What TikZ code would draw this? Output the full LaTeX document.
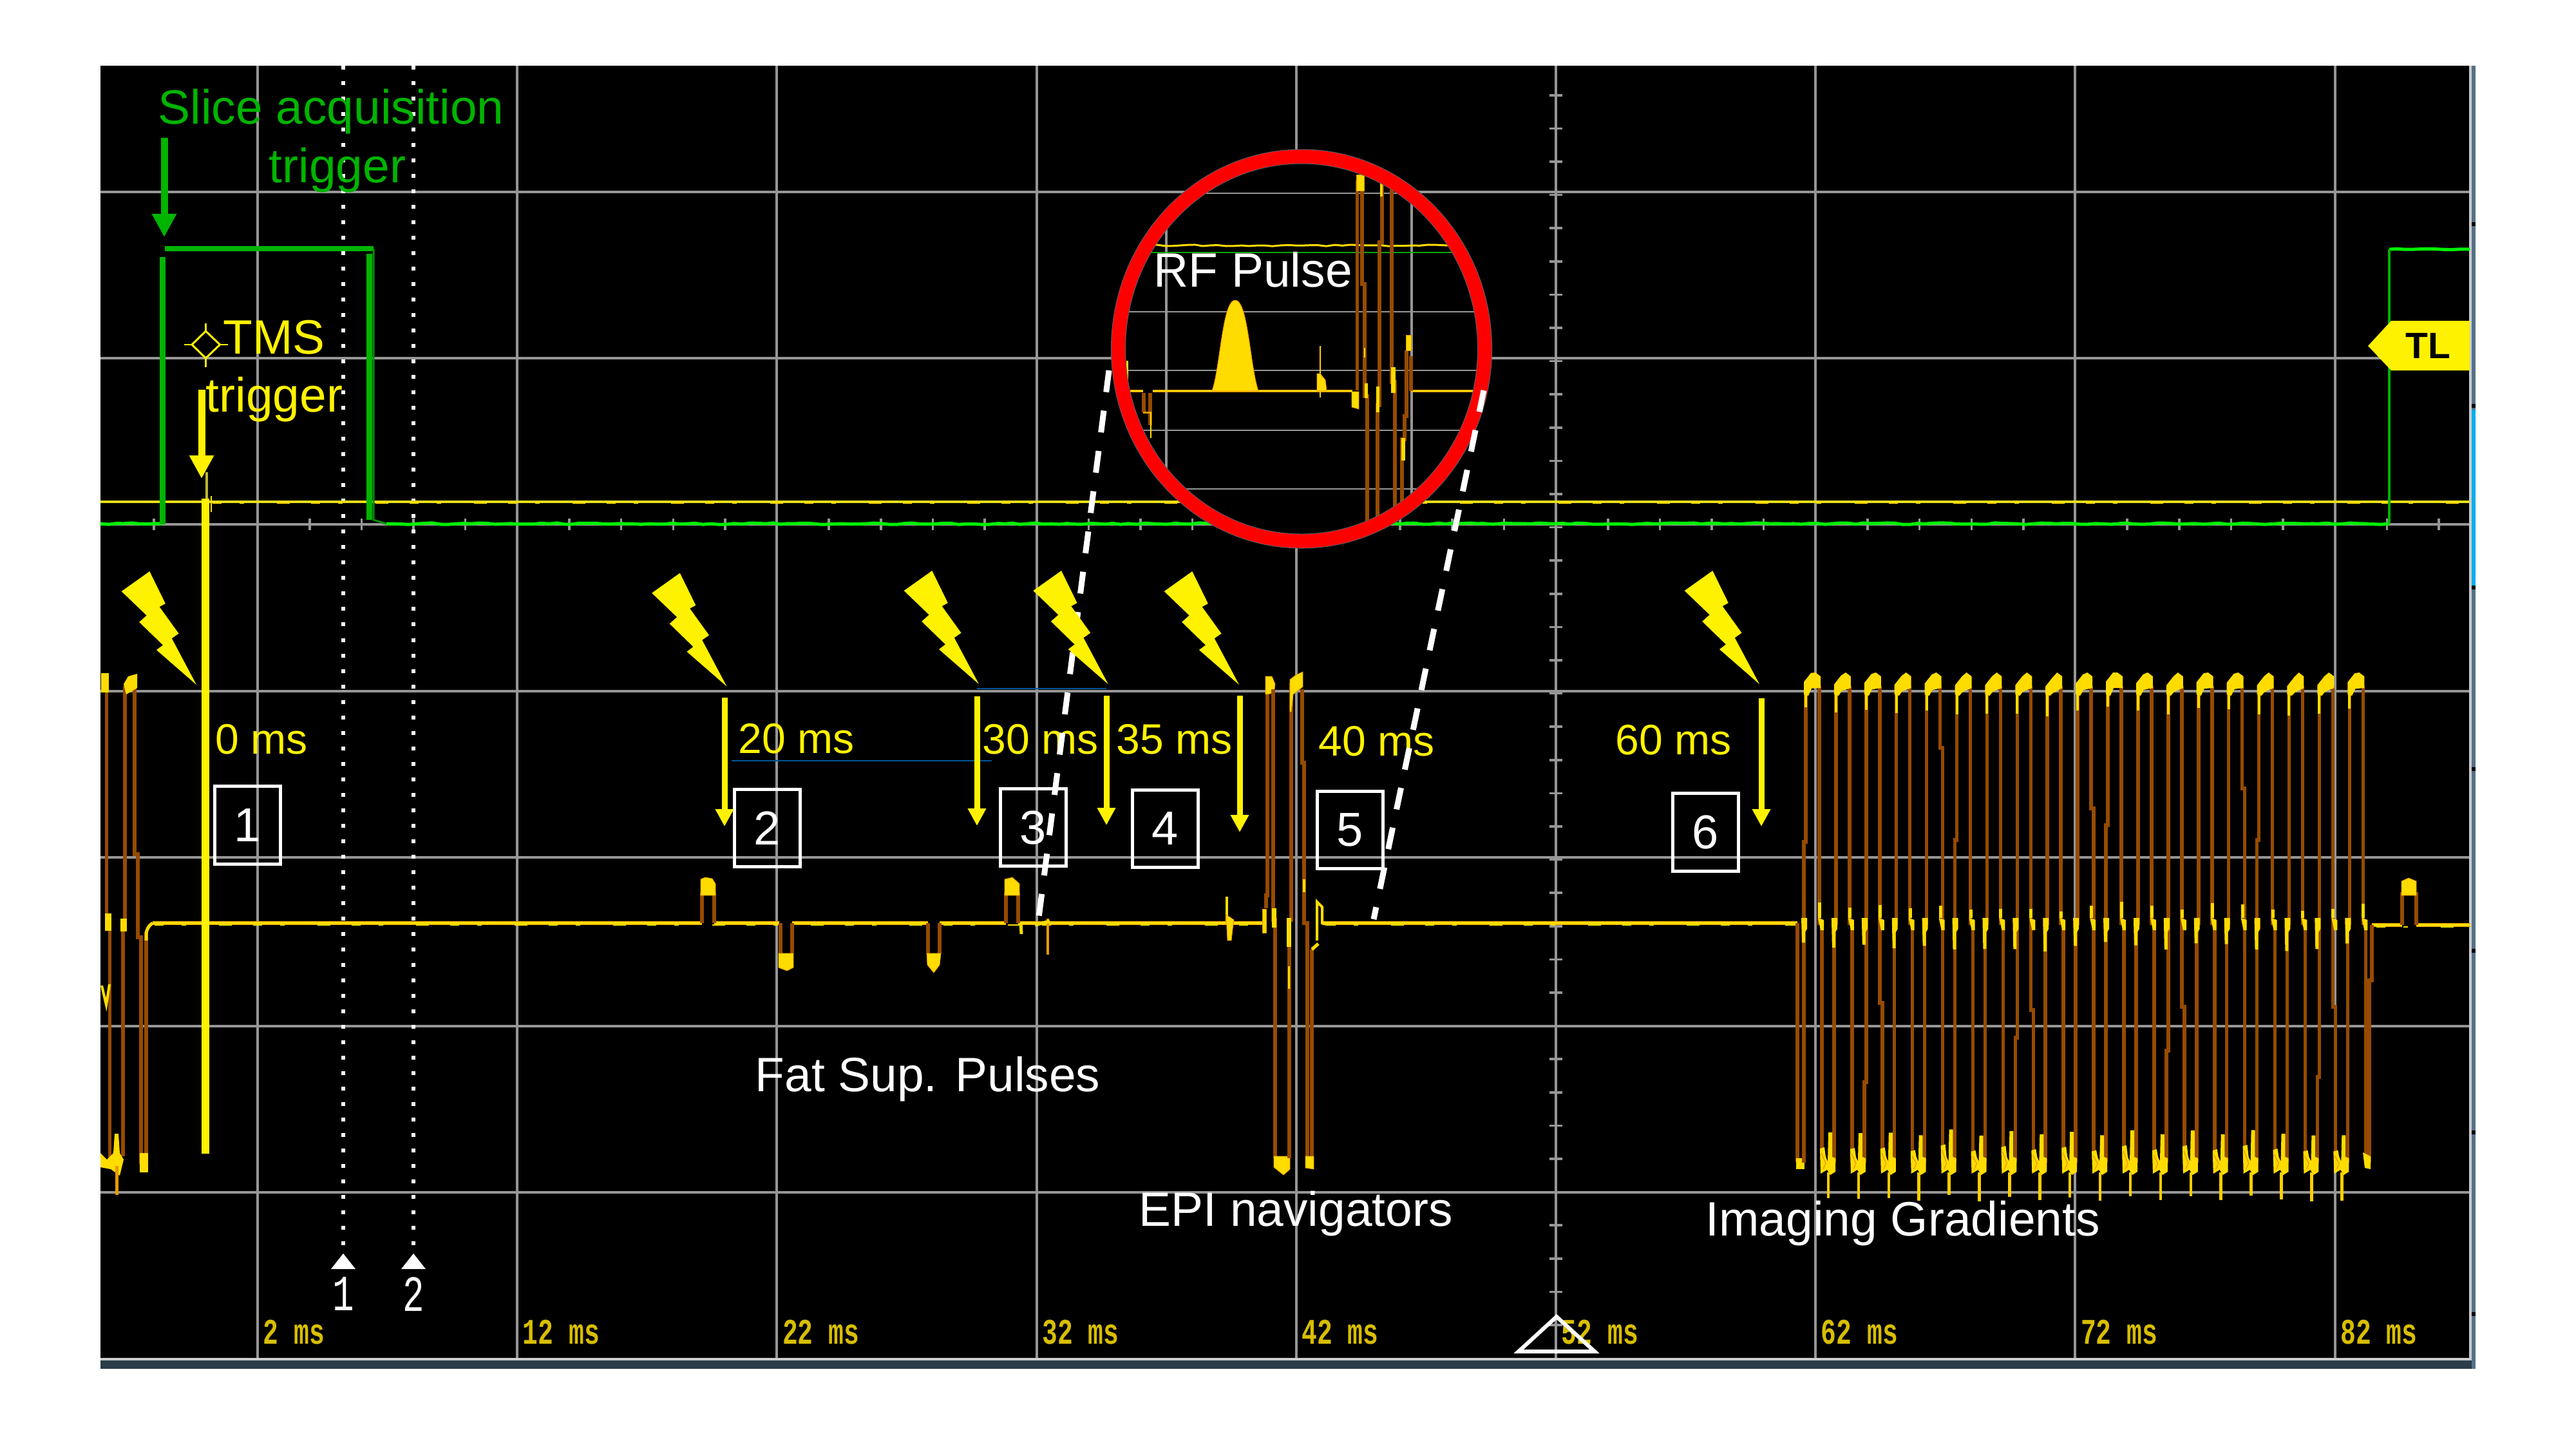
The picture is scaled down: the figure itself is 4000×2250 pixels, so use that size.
\documentclass[tikz,border=0pt]{standalone}
\usepackage{fontspec}
\setmainfont{Liberation Sans}
\newfontfamily\scopefont{Liberation Mono}
\usetikzlibrary{arrows.meta,decorations.pathmorphing}
\definecolor{gridgrey}{HTML}{969696}
\definecolor{tracebrown}{HTML}{964B00}
\definecolor{traceyel}{HTML}{FFDC00}
\definecolor{traceorange}{HTML}{E89A00}
\definecolor{slicegreen}{HTML}{00B400}
\definecolor{lowgreen}{HTML}{00F000}
\definecolor{scopegold}{HTML}{D8BE00}
\definecolor{stripslate}{HTML}{557089}
\definecolor{stripdark}{HTML}{2C3D4A}
\tikzset{
  gridline/.style={draw=gridgrey,line width=.04cm},
  minorline/.style={draw=gridgrey,line width=.02cm},
  tickline/.style={draw=gridgrey,line width=.035cm},
  dotline/.style={draw=white,line width=.06cm,dash pattern=on .06cm off .18cm},
  dashline/.style={draw=white,line width=.09cm,dash pattern=on .34cm off .29cm},
  brownline/.style={draw=tracebrown,line width=.055cm},
  baseline/.style={draw=traceyel,line width=.04cm,preaction={draw=traceorange,line width=.06cm}},
  thinbase/.style={draw=traceyel,line width=.025cm,preaction={draw=traceorange,line width=.04cm}},
  bumpline/.style={draw=traceyel,line width=.015cm,dash pattern=on .14cm off .28cm on .07cm off .51cm on .2cm off .33cm},
  noisy/.style={decorate,decoration={random steps,segment length=.12cm,amplitude=.012cm}},
  blob/.style={fill=traceyel,draw=traceorange,line width=.008cm},
  bigarrow/.style={line width=.11cm,-{Triangle[width=.36cm,length=.36cm]}},
  smallarrow/.style={draw=yellow,line width=.09cm,-{Triangle[width=.27cm,length=.27cm]}},
  bluerule/.style={draw=blue!45!cyan!60!black,line width=.02cm},
  biglabel/.style={anchor=base west,inner sep=0pt,font=\fontsize{21.3}{25}\selectfont},
  timelabel/.style={anchor=base west,inner sep=0pt,text=yellow,font=\fontsize{18.8}{22}\selectfont},
  scopelabel/.style={anchor=base west,inner sep=0pt,text=scopegold,font=\scopefont\bfseries\fontsize{15.9}{18}\selectfont},
  cursorlabel/.style={inner sep=0pt,text=white,font=\scopefont\fontsize{22.4}{25}\selectfont},
  numbox/.style={draw=white,line width=.05cm,minimum width=1.02cm,minimum height=1.2cm,inner sep=0pt,text=white,font=\fontsize{21.05}{25}\selectfont},
  lightning/.pic={\fill[yellow] (-72.7,176) -- (-48.2,126) -- (-57.4,121) -- (-27.5,79.5) -- (-38.3,72) -- (0,0) -- (-62,54) -- (-52,61.6) -- (-88.8,97.3) -- (-77.3,107.6) -- (-116.3,145) -- cycle;}
}
\newcommand{\narrowmono}[1]{\scalebox{.71}[1]{#1}}
\begin{document}
\begin{tikzpicture}[x=0.01cm,y=0.01cm,yscale=-1,xscale=1]
\useasboundingbox (0,0) rectangle (4000,2250);
\pgfmathsetseed{4711}
\fill[black] (156,102) rectangle (3838,2113);
\foreach \gx in {400,803,1206,1610,2013,2416,2819,3222,3626} \draw[gridline] (\gx,102) -- (\gx,2110);
\foreach \gy in {298,556,814,1073,1331,1593,1851} \draw[gridline] (156,\gy) -- (3835,\gy);
\foreach \k in {0,...,44} \draw[tickline] (3787-80.64*\k,805) -- (3787-80.64*\k,823);
\foreach \k in {0,...,37} \draw[tickline] (2406,2057-51.6*\k) -- (2426,2057-51.6*\k);
\fill[stripdark] (156,2112) rectangle (3844,2125);
\draw[draw=black!20,line width=.04cm] (156,2110) -- (3838,2110);
\fill[stripslate] (3838,102) rectangle (3844,2125);
\fill[black!20] (3834,102) rectangle (3838,2112);
\fill[cyan] (3838,636) rectangle (3844,909);
\foreach \k in {0,...,6} \fill[black] (3838,348+282*\k-3) rectangle (3844,348+282*\k+3);
% cursors
\draw[dotline] (533,102) -- (533,1946);
\draw[dotline] (642,102) -- (642,1946);
\fill[white] (533,1946) -- (552,1970) -- (514,1970) -- cycle;
\fill[white] (642,1946) -- (661,1970) -- (623,1970) -- cycle;
\node[cursorlabel] (cursorA) at (533,2009) {\narrowmono{1}};
\node[cursorlabel] (cursorB) at (642,2009) {\narrowmono{2}};
\foreach \k/\t in {0/2,1/12,2/22,3/32,4/42,5/52,6/62,7/72,8/82}
  \node[scopelabel] (time\k) at (408+403.2*\k,2086) {\narrowmono{\t{} ms}};
\draw[draw=white,line width=.06cm,line join=miter] (2417,2044) -- (2358,2098) -- (2476,2098) -- cycle;
% upper traces
\draw[draw=yellow!90!black,line width=.04cm] (156,779) -- (3835,779);
\draw[bumpline] (330,781) -- (3835,781);
\draw[draw=lowgreen,line width=.05cm,noisy] (156,813) -- (252,813);
\draw[draw=lowgreen,line width=.05cm,noisy] (600,813) -- (3710,813);
\draw[draw=slicegreen,line width=.09cm] (252,814) -- (252,399);
\draw[draw=slicegreen,line width=.08cm] (256,386) -- (580,386);
\draw[draw=slicegreen,line width=.09cm] (573,394) -- (573,807);
\draw[draw=slicegreen!80!black,line width=.03cm] (580,386) -- (580,807) -- (600,813);
\draw[draw=lowgreen,line width=.05cm,noisy] (3710,387) -- (3835,387);
\draw[draw=slicegreen,line width=.045cm] (3710,813) -- (3710,387);
% main trace
\draw[baseline] (237,1433) -- (1090,1433);
\draw[baseline] (1109,1433) -- (1210,1433);
\draw[baseline] (1230,1433) -- (1441,1433);
\draw[baseline] (1459,1433) -- (1562,1433);
\draw[baseline] (1581,1433) -- (1960,1433);
\draw[baseline] (2053,1433) -- (2791,1433);
\draw[baseline] (3683,1436) -- (3730,1436);
\draw[baseline] (3752,1436) -- (3836,1436);
\draw[bumpline] (240,1436) -- (1960,1436);
\draw[bumpline] (2060,1436) -- (2791,1436);
\draw[bumpline] (3690,1439) -- (3836,1439);
% left readout
\draw[brownline] (165.5,1070) -- (165.5,1425) -- (170.6,1425) -- (170.6,1800);
\draw[brownline] (191,1795) -- (191,1433) -- (194,1433) -- (194,1065);
\draw[brownline] (209,1065) -- (209,1326) -- (214,1326) -- (214,1455) -- (219,1455) -- (219,1807);
\draw[brownline] (227,1807) -- (227,1447);
\draw[draw=traceyel,line width=.05cm,rounded corners=.1cm] (227,1460) -- (227,1440) -- (237,1433);
\fill[traceyel] (157,1045) rectangle (169,1075);
\fill[traceyel] (192,1062) -- (199,1050) -- (213,1046) -- (213,1068) -- (196,1078) -- cycle;
\fill[traceyel] (217,1790) rectangle (230,1820);
\fill[traceyel] (163,1418) rectangle (173,1445);
\fill[traceyel] (187,1426) rectangle (197,1446);
\draw[draw=traceyel,line width=.04cm] (158,1530) -- (165,1560) -- (170,1528);
\fill[traceyel] (156,1790) -- (166,1800) -- (176,1790) -- (178,1760) -- (184,1760) -- (186,1790) -- (192,1800) -- (186,1825) -- (172,1815) -- (156,1812) -- cycle;
\draw[draw=traceorange,line width=.05cm] (181,1810) -- (181,1855);
% fat sup pulses
\draw[brownline] (1090,1433) -- (1090,1385);
\draw[brownline] (1109,1385) -- (1109,1433);
\fill[blob] (1088,1365) -- (1095,1362) -- (1106,1364) -- (1111,1372) -- (1111,1390) -- (1088,1390) -- cycle;
\draw[brownline] (1212,1433) -- (1212,1480);
\draw[brownline] (1230,1480) -- (1230,1433);
\fill[blob] (1209,1480) -- (1232,1480) -- (1232,1502) -- (1222,1507) -- (1209,1502) -- cycle;
\draw[brownline] (1441,1433) -- (1441,1480);
\draw[brownline] (1459,1480) -- (1459,1433);
\fill[blob] (1439,1480) -- (1461,1480) -- (1459,1498) -- (1450,1510) -- (1440,1498) -- cycle;
\draw[brownline] (1562,1433) -- (1562,1385);
\draw[brownline] (1581,1385) -- (1581,1433);
\fill[blob] (1560,1365) -- (1572,1362) -- (1583,1372) -- (1583,1390) -- (1560,1390) -- cycle;
\draw[draw=traceyel,line width=.05cm] (1585,1433) -- (1586,1450);
\draw[draw=traceorange,line width=.04cm] (1627,1426) -- (1627,1482);
\draw[draw=traceyel,line width=.05cm] (1607,1436) -- (1630,1430);
% spike before navigators
\draw[draw=traceyel,line width=.04cm] (1905,1392) -- (1905,1430);
\fill[blob] (1904,1420) -- (1916,1428) -- (1914,1442) -- (1912,1460) -- (1906,1460) -- cycle;
% navigators
\fill[blob] (1960,1411) rectangle (1966,1448);
\draw[brownline] (1966,1410) -- (1966,1390) -- (1968,1390) -- (1968,1060);
\fill[blob] (1965,1050) -- (1975,1050) -- (1980,1062) -- (1978,1076) -- (1965,1078) -- cycle;
\draw[brownline] (1977,1070) -- (1977,1428) -- (1980,1428) -- (1980,1798);
\fill[blob] (1978,1795) -- (2003,1795) -- (2003,1815) -- (1993,1824) -- (1978,1812) -- cycle;
\draw[brownline] (2002,1798) -- (2002,1428) -- (2005,1428) -- (2005,1060);
\fill[blob] (2003,1055) -- (2012,1048) -- (2023,1043) -- (2023,1066) -- (2008,1078) -- (2005,1105) -- (2003,1105) -- cycle;
\draw[brownline] (2022,1070) -- (2022,1184) -- (2025,1184) -- (2025,1433) -- (2030,1433) -- (2030,1795);
\draw[brownline] (2037,1798) -- (2037,1474);
\fill[blob] (2027,1795) -- (2040,1795) -- (2040,1815) -- (2027,1813) -- cycle;
\fill[traceyel] (1975,1410) rectangle (1982,1440);
\fill[traceyel] (1998,1425) rectangle (2005,1470);
\fill[traceyel] (2000,1500) rectangle (2003,1535);
\fill[traceyel] (2023,1365) rectangle (2027,1385);
\draw[draw=traceyel,line width=.05cm] (2037,1474) -- (2047,1465);
\draw[draw=traceyel,line width=.04cm] (2045,1460) -- (2045,1400) -- (2053,1408) -- (2053,1433) -- (2060,1435);
% imaging gradients
\draw[brownline] (2791,1433) -- (2791,1804);
\fill[traceyel] (2789,1798) rectangle (2802,1815);
\foreach \n/\ka/\kb in {0/1307/1433,1/1433/1433,2/1680/1557,3/1433/1433,4/1433/1161,5/1304/1433,6/1433/1433,7/1611/1568,8/1433/1433,9/1433/1255,10/1281/1433,11/1433/1433,12/1631/1563,13/1433/1433,14/1433/1224,15/1304/1433,16/1433/1433,17/1672/1563,18/1433/1433}{
  \pgfmathsetmacro{\gx}{2815+46.9*\n}
  \pgfmathsetmacro{\ja}{rnd*8-4}
  \draw[brownline] (\gx-14,1805) -- (\gx-14,\ka) -- (\gx-11,\ka) -- (\gx-11,1065);
  \draw[brownline] (\gx+10,1065) -- (\gx+10,\kb) -- (\gx+14,\kb) -- (\gx+14,1800);
  \fill[traceyel] (\gx-14,1078) -- (\gx-14,1062+\ja) -- (\gx-3,1048+\ja) -- (\gx+4,1044) -- (\gx+12,1050) -- (\gx+12,1068) -- (\gx-2,1072+\ja) -- (\gx-7,1080) -- cycle;
  \fill[traceyel] (\gx-13,1075) rectangle (\gx-9,1105+\ja*2);
  \fill[traceyel] (\gx-18,1425) -- (\gx-9,1425) -- (\gx-9,1442) -- (\gx-12,1447) -- (\gx-12,1470+\ja*2) -- (\gx-17,1470+\ja*2) -- cycle;
  \fill[traceyel] (\gx+8,1408+\ja*2) rectangle (\gx+13,1425);
  \fill[traceyel] (\gx+8,1425) -- (\gx+17,1428) -- (\gx+17,1444) -- (\gx+12,1444) -- cycle;
}
\foreach \n in {0,...,17}{
  \pgfmathsetmacro{\gx}{2815+46.9*\n}
  \pgfmathsetmacro{\ja}{rnd*10-5}
  \fill[traceyel] (\gx+11,1783+\ja) -- (\gx+18,1781+\ja) -- (\gx+20,1796) -- (\gx+23,1803) -- (\gx+24,1758+\ja) -- (\gx+30,1758+\ja) -- (\gx+30,1796) -- (\gx+35,1798) -- (\gx+35,1819) -- (\gx+27,1824) -- (\gx+22,1816) -- (\gx+12,1822) -- cycle;
  \draw[draw=traceorange,line width=.012cm] (\gx+13,1790+\ja) -- (\gx+20,1806) -- (\gx+16,1815);
  \draw[draw=traceyel!85!orange,line width=.045cm] (\gx+24,1820) -- (\gx+24,1860+\ja);
}
\draw[brownline] (3679,1805) -- (3679,1522) -- (3683,1522) -- (3683,1436);
\fill[traceyel] (3669,1789) -- (3681,1795) -- (3681,1815) -- (3672,1813) -- cycle;
\draw[brownline] (3730,1436) -- (3730,1385);
\draw[brownline] (3752,1385) -- (3752,1436);
\fill[blob] (3729,1368) -- (3740,1363) -- (3752,1368) -- (3752,1390) -- (3729,1390) -- cycle;
% tms marker
\draw[draw=yellow!70!black,line width=.035cm] (321,733) -- (321,774);
\draw[draw=traceyel,line width=.025cm] (328,770) -- (328,795);
\draw[draw=yellow,line width=.12cm] (318.6,774) -- (318.6,1791);
\draw[draw=yellow,line width=.03cm] (319.5,514) -- (341.5,535) -- (319.5,556) -- (298,535) -- cycle;
\draw[draw=yellow,line width=.025cm] (286,535) -- (298,535);
\draw[draw=yellow,line width=.025cm] (341.5,535) -- (354,535);
\draw[draw=yellow,line width=.025cm] (319.5,502) -- (319.5,514);
\draw[draw=yellow,line width=.025cm] (319.5,556) -- (319.5,570);
\draw[bigarrow,draw=yellow,fill=yellow] (313,605) -- (313,743);
\draw[bigarrow,draw=slicegreen,fill=slicegreen] (255,214) -- (255,368);
\draw[bluerule] (1136,1181) -- (1540,1181);
\draw[bluerule] (1517,1069) -- (1718,1069);
% rf inset
\fill[black] (2021,541.5) ellipse [x radius=290,y radius=304];
\begin{scope}
\clip (2021,541.5) ellipse [x radius=285,y radius=299];
\foreach \gy in {300,483.5,575,668,759} \draw[minorline] (1700,\gy) -- (2340,\gy);
\draw[gridline] (1811,200) -- (1811,880);
\draw[gridline] (2192,200) -- (2192,880);
\draw[draw=lowgreen!70!black,line width=.012cm] (1700,392) -- (2340,392);
\draw[draw=traceyel,line width=.03cm,noisy] (1700,381) -- (2340,381);
\draw[thinbase] (1700,607) -- (1775,607);
\draw[thinbase] (1790,607) -- (2100,607);
\draw[thinbase] (2191,607) -- (2340,607);
\fill[traceyel,draw=traceorange,line width=.01cm] (1882,607) .. controls (1895,570) and (1898,466) .. (1918,466) .. controls (1938,466) and (1941,570) .. (1954,607) -- cycle;
\fill[traceyel] (1749,560) rectangle (1752,595);
\draw[brownline] (1776,610) -- (1776,640);
\draw[brownline] (1786,610) -- (1786,660);
\draw[draw=traceorange,line width=.03cm] (1775,640) -- (1788,640);
\draw[draw=traceyel,line width=.025cm] (1787,640) -- (1787,680);
\draw[draw=traceyel!85!orange,line width=.025cm] (2050,537) -- (2050,617);
\fill[blob] (2045,580) -- (2050,580) -- (2058,590) -- (2060,607) -- (2045,607) -- cycle;
\fill[blob] (2099,608) -- (2110,608) -- (2110,635) -- (2099,632) -- cycle;
\draw[brownline] (2107.6,606) -- (2107.6,280);
\draw[brownline] (2115,290) -- (2115,441) -- (2119,441) -- (2119,615) -- (2123,615) -- (2123,815);
\draw[brownline] (2139,815) -- (2139,629) -- (2142,629) -- (2142,376) -- (2146,376) -- (2146,285);
\draw[brownline] (2161,291) -- (2161,593) -- (2166,593) -- (2166,790);
\draw[brownline] (2177,790) -- (2177,682) -- (2181,682) -- (2181,646) -- (2184,646) -- (2184,544);
\draw[brownline] (2191,553) -- (2191,607);
\fill[blob] (2106,271) rectangle (2118,296);
\fill[blob] (2183,520) rectangle (2191,544);
\fill[traceyel] (2143,285) rectangle (2147,305);
\fill[traceyel] (2118,540) rectangle (2120,555);
\fill[traceyel] (2119,595) rectangle (2124,618);
\fill[traceyel] (2137,600) rectangle (2142,640);
\fill[traceyel] (2160,570) rectangle (2167,610);
\fill[traceyel] (2176,680) rectangle (2182,715);
\end{scope}
\draw[draw=stripdark!80,line width=.23cm] (2021,541.5) ellipse [x radius=284.5,y radius=298.5];
\draw[draw=red,line width=.21cm] (2021,541.5) ellipse [x radius=284.5,y radius=298.5];
% texts
\node[biglabel,text=slicegreen] (sliceLabel) at (245,192) {Slice acquisition};
\node[biglabel,text=slicegreen] (sliceTrigger) at (417,283) {trigger};
\node[biglabel,text=yellow] (tmsLabel) at (346,549) {TMS};
\node[biglabel,text=yellow] (tmsTrigger) at (319,639) {trigger};
\node[biglabel,text=white] (rfLabel) at (1791,445) {RF Pulse};
\node[biglabel,text=white] (fatLabel) at (1172,1694) {Fat Sup. Pulses};
\node[biglabel,text=white] (epiLabel) at (1768,1903) {EPI navigators};
\node[biglabel,text=white] (imgLabel) at (2648,1918) {Imaging Gradients};
\node[timelabel] (t0) at (334,1170) {0 ms};
\node[timelabel] (t20) at (1146,1169) {20 ms};
\node[timelabel] (t30) at (1525,1170) {30 ms};
\node[timelabel] (t35) at (1733,1170) {35 ms};
\node[timelabel] (t40) at (2047,1173) {40 ms};
\node[timelabel] (t60) at (2508,1171) {60 ms};
\node[numbox] (box1) at (384.5,1281) {1};
\node[numbox] (box2) at (1191.5,1285.5) {2};
\node[numbox] (box3) at (1604.5,1284.5) {3};
\node[numbox] (box4) at (1809.5,1286.5) {4};
\node[numbox] (box5) at (2096.5,1288.5) {5};
\node[numbox] (box6) at (2648,1292) {6};
\draw[dashline] (1722,575) -- (1612,1432);
\draw[dashline] (2304,606) -- (2133,1427);
\draw[smallarrow] (1125,1083) -- (1125,1283);
\draw[smallarrow] (1517,1081) -- (1517,1282);
\draw[smallarrow] (1718,1080) -- (1718,1281);
\draw[smallarrow] (1925,1080) -- (1925,1292);
\draw[smallarrow] (2735,1084) -- (2735,1283);
\pic at (305,1063) {lightning};
\pic at (1128.5,1065.6) {lightning};
\pic at (1520,1062) {lightning};
\pic at (1720.7,1062) {lightning};
\pic at (1924,1063) {lightning};
\pic at (2732,1062) {lightning};
\fill[yellow] (3677,537) -- (3713,498) -- (3835,498) -- (3835,575) -- (3713,575) -- cycle;
\node[inner sep=0pt,font=\bfseries\fontsize{16.2}{19}\selectfont,text=black] (trigLevel) at (3770,537) {TL};
\end{tikzpicture}
\end{document}
